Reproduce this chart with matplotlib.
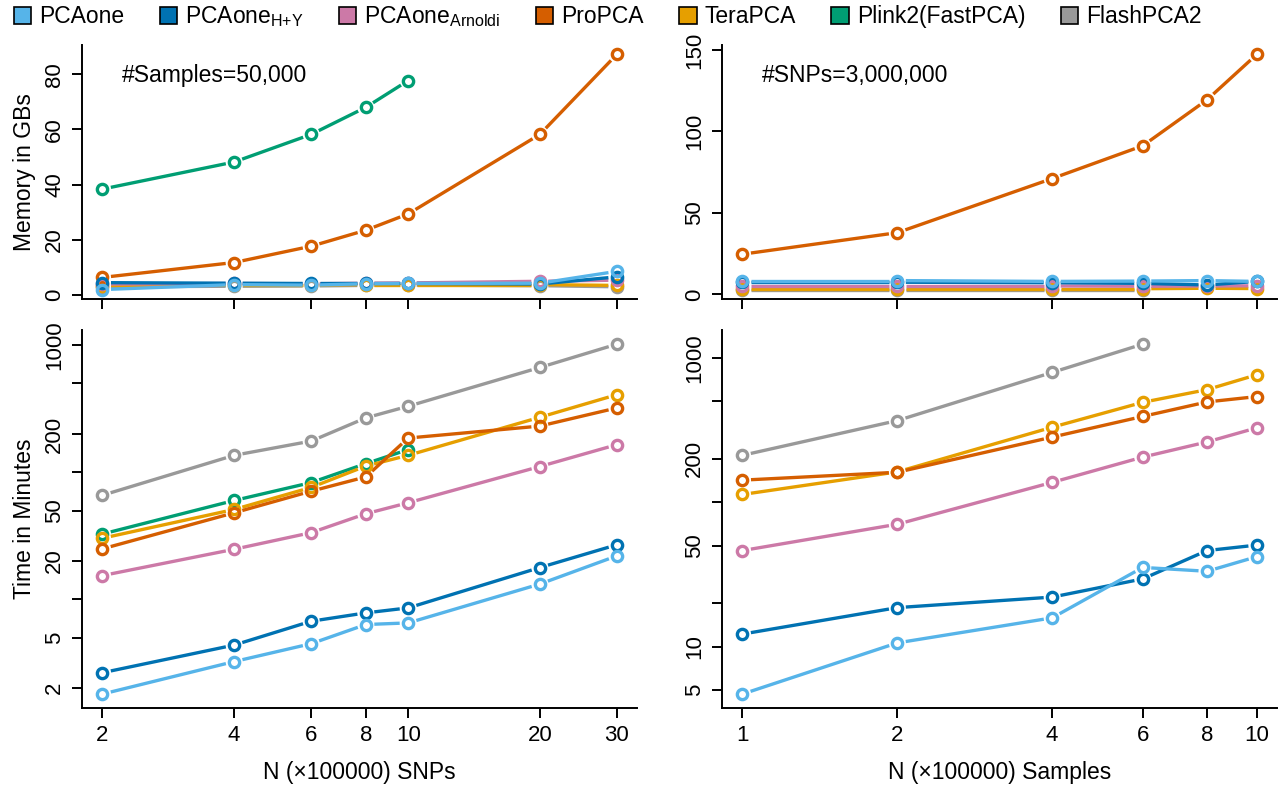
import numpy as np
import matplotlib
matplotlib.use('Agg')
import matplotlib.pyplot as plt
from matplotlib.patches import Patch
from matplotlib.ticker import FixedLocator, NullLocator, FixedFormatter

plt.rcParams['font.family'] = ['Liberation Sans', 'DejaVu Sans']
plt.rcParams['mathtext.fontset'] = 'custom'
plt.rcParams['mathtext.rm'] = 'Liberation Sans'

# x values
snps = [2, 4, 6, 8, 10, 20, 30]
samples = [1, 2, 4, 6, 8, 10]

# memory (GB), fixed #samples=50,000
snp_mem_pcaone = [2.0, 3.8, 3.6, 4.1, 4.2, 4.3, 8.6]
snp_mem_hy = [4.5, 4.3, 4.2, 4.2, 4.2, 4.0, 6.6]
snp_mem_arnoldi = [4.0, 4.2, 4.1, 4.3, 4.4, 5.0, 5.4]
snp_mem_propca = [6.4, 11.8, 17.7, 23.5, 29.4, 58.2, 87.2]
snp_mem_terapca = [3.4, 3.6, 3.6, 3.8, 3.8, 3.8, 3.5]
snp_mem_plink2 = [38.4, 48.2, 58.2, 68.0, 77.7]
snp_mem_flash = [3.0, 3.2, 3.3, 3.5, 3.6, 3.4, 3.0]

# memory (GB), fixed #SNPs=3,000,000
samp_mem_pcaone = [8.5, 8.5, 8.0, 8.2, 8.5, 8.0]
samp_mem_hy = [7.5, 7.5, 7.2, 6.8, 5.8, 8.0]
samp_mem_arnoldi = [5.2, 5.2, 5.2, 5.0, 5.2, 5.3]
samp_mem_propca = [24.7, 37.9, 71.1, 91.2, 119.4, 147.3]
samp_mem_terapca = [3.5, 3.5, 3.5, 3.5, 3.8, 3.6]
samp_mem_flash = [3.0, 3.0, 3.0, 3.0]

# time (minutes) vs SNPs
snp_time_pcaone = [1.80, 3.24, 4.48, 6.34, 6.53, 13.2, 22.0]
snp_time_hy = [2.65, 4.37, 6.73, 7.83, 8.57, 17.8, 26.9]
snp_time_arnoldi = [15.4, 24.8, 33.5, 47.2, 57.6, 111, 165]
snp_time_propca = [25, 48, 71, 92, 186, 231, 321]
snp_time_terapca = [30.3, 51, 76, 112, 136, 271, 408]
snp_time_plink2 = [32.7, 60, 83, 117, 151]
snp_time_flash = [66, 136, 176, 268, 331, 668, 1019]

# time (minutes) vs samples
samp_time_pcaone = [4.69, 10.6, 15.8, 35.3, 33.2, 41.9]
samp_time_hy = [12.2, 18.6, 22.0, 29.4, 46.2, 50.4]
samp_time_arnoldi = [46.2, 70.3, 137, 205, 261, 327]
samp_time_propca = [142, 161, 282, 392, 494, 538]
samp_time_terapca = [113, 162, 330, 491, 601, 762]
samp_time_flash = [211, 367, 791, 1241]

methods = ['PCAone', r'PCAone$_{\mathregular{H{+}Y}}$', r'PCAone$_{\mathregular{Arnoldi}}$',
           'ProPCA', 'TeraPCA', 'Plink2(FastPCA)', 'FlashPCA2']
colors = ['#56B4E9', '#0072B2', '#CC79A7', '#D55E00', '#E69F00', '#009E73', '#999999']


def r_lim(vals, log=False):
    # R style axis range: data range + 4% each side
    v = np.log10(vals) if log else np.asarray(vals, float)
    lo, hi = v.min(), v.max()
    d = (hi - lo) * 0.04
    lo, hi = lo - d, hi + d
    return (10 ** lo, 10 ** hi) if log else (lo, hi)


def draw_b(ax, x, y, color, gap=8.5):
    # R type="b": points with the connecting line broken around them
    tr = ax.transData
    pts = tr.transform(np.column_stack([x, y]))
    for p0, p1 in zip(pts[:-1], pts[1:]):
        d = p1 - p0
        L = np.hypot(*d)
        if L <= 2 * gap:
            continue
        u = d / L
        seg = tr.inverted().transform(np.array([p0 + u * gap, p1 - u * gap]))
        ax.plot(seg[:, 0], seg[:, 1], color=color, lw=2.4, solid_capstyle='butt', zorder=2)
    ax.plot(x, y, 'o', ms=7.4, mfc='none', mec=color, mew=2.4, zorder=3)


def style(ax, xticks, show_xlabels, yticks, ylabels):
    for s in ['top', 'right']:
        ax.spines[s].set_visible(False)
    for s in ['left', 'bottom']:
        ax.spines[s].set_linewidth(1.4)
    ax.xaxis.set_major_locator(FixedLocator(xticks))
    ax.xaxis.set_minor_locator(NullLocator())
    ax.yaxis.set_major_locator(FixedLocator(yticks))
    ax.yaxis.set_minor_locator(NullLocator())
    ax.xaxis.set_major_formatter(FixedFormatter([str(t) for t in xticks] if show_xlabels else [''] * len(xticks)))
    ax.yaxis.set_major_formatter(FixedFormatter(ylabels))
    ax.tick_params(axis='both', length=7, width=1.4, labelsize=16)
    ax.tick_params(axis='x', pad=5)
    ax.tick_params(axis='y', pad=5)
    for lab in ax.get_yticklabels():
        lab.set_rotation(90)
        lab.set_va('center')


fig = plt.figure(figsize=(12.8, 7.88), dpi=100)
ax_ml = fig.add_axes([0.064, 0.6206, 0.434, 0.3224])
ax_mr = fig.add_axes([0.564, 0.6206, 0.434, 0.3224])
ax_tl = fig.add_axes([0.064, 0.1015, 0.434, 0.4795])
ax_tr = fig.add_axes([0.564, 0.1015, 0.434, 0.4795])

panels = [
    (ax_ml, snps, [snp_mem_pcaone, snp_mem_hy, snp_mem_arnoldi, snp_mem_propca,
                   snp_mem_terapca, snp_mem_plink2, snp_mem_flash], False),
    (ax_mr, samples, [samp_mem_pcaone, samp_mem_hy, samp_mem_arnoldi, samp_mem_propca,
                      samp_mem_terapca, None, samp_mem_flash], False),
    (ax_tl, snps, [snp_time_pcaone, snp_time_hy, snp_time_arnoldi, snp_time_propca,
                   snp_time_terapca, snp_time_plink2, snp_time_flash], True),
    (ax_tr, samples, [samp_time_pcaone, samp_time_hy, samp_time_arnoldi, samp_time_propca,
                      samp_time_terapca, None, samp_time_flash], True),
]

for ax, xs, series, logy in panels:
    ax.set_xscale('log')
    if logy:
        ax.set_yscale('log')
    allv = np.concatenate([s for s in series if s is not None])
    ax.set_xlim(r_lim(xs, log=True))
    ax.set_ylim(r_lim(allv, log=logy))
    for s, c in reversed(list(zip(series, colors))):
        if s is None:
            continue
        draw_b(ax, xs[:len(s)], s, c)

style(ax_ml, snps, False, [0, 20, 40, 60, 80], ['0', '20', '40', '60', '80'])
style(ax_mr, samples, False, [0, 50, 100, 150], ['0', '50', '100', '150'])
style(ax_tl, snps, True, [2, 5, 10, 20, 50, 100, 200, 500, 1000],
      ['2', '5', '', '20', '50', '', '200', '', '1000'])
style(ax_tr, samples, True, [5, 10, 20, 50, 100, 200, 500, 1000],
      ['5', '10', '', '50', '', '200', '', '1000'])

ax_ml.set_ylabel('Memory in GBs', fontsize=16.5, labelpad=6)
ax_tl.set_ylabel('Time in Minutes', fontsize=16.5, labelpad=6)
ax_tl.set_xlabel('N (×100000) SNPs', fontsize=16.5, labelpad=11)
ax_tr.set_xlabel('N (×100000) Samples', fontsize=16.5, labelpad=11)

ax_ml.text(0.072, 0.88, '#Samples=50,000', transform=ax_ml.transAxes, fontsize=16.5, va='center')
ax_mr.text(0.072, 0.88, '#SNPs=3,000,000', transform=ax_mr.transAxes, fontsize=16.5, va='center')

handles = [Patch(facecolor=c, edgecolor='black', linewidth=1.2) for c in colors]
fig.legend(handles, methods, loc='upper left', bbox_to_anchor=(0.0, 1.012), ncol=7,
           frameon=False, fontsize=16.5, handlelength=0.75, handleheight=0.75,
           handletextpad=0.35, columnspacing=1.55, borderaxespad=0.2)

fig.savefig('out.png', dpi=100)
